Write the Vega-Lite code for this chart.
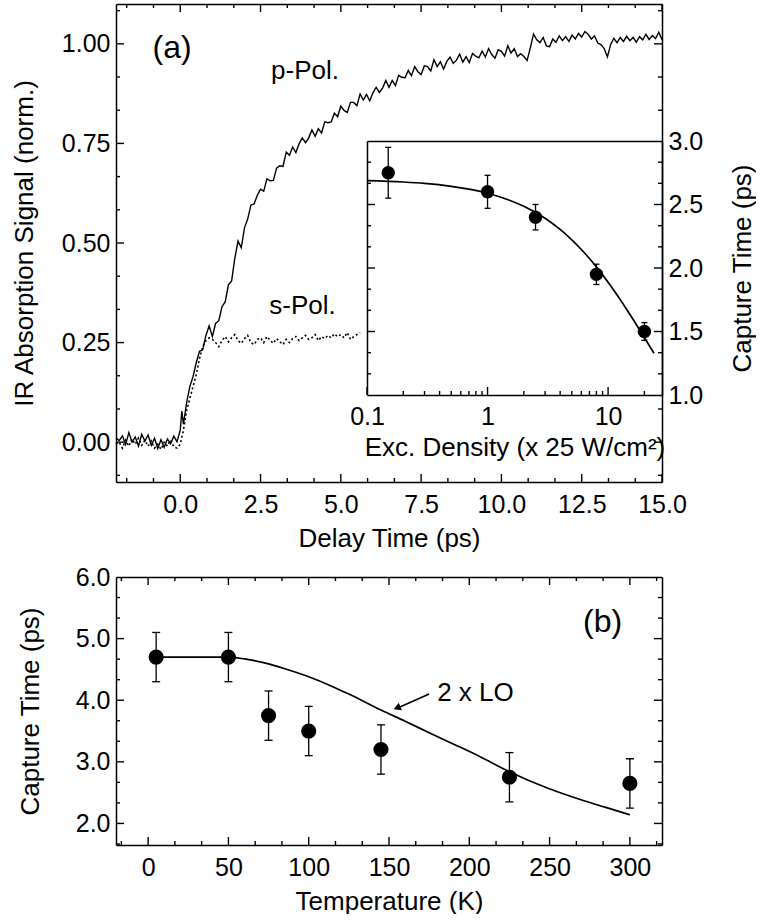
{
 "$schema": "https://vega.github.io/schema/vega-lite/v6.json",
 "padding": {"left": 11, "top": 4, "right": 0, "bottom": 0},
 "background": "white",
 "config": {
  "view": {"stroke": null},
  "font": "Liberation Sans",
  "axis": {"grid": false, "ticks": false, "tickSize": 0, "domain": true, "domainColor": "black", "domainWidth": 1.5, "domainOpacity": 1, "labelColor": "black", "titleColor": "black", "labelFont": "Liberation Sans", "titleFont": "Liberation Sans", "labelFontSize": 25, "titleFontSize": 26, "titleFontWeight": "normal", "labelFlush": false, "labelOverlap": false, "labelBound": false, "zindex": 1},
  "text": {"font": "Liberation Sans", "color": "black"},
  "tick": {"color": "black", "thickness": 1.4, "opacity": 1}
 },
 "datasets": {
  "ppol": [
   {"t":-2.0,"v":0.010},{"t":-1.9,"v":0.004},{"t":-1.8,"v":0.016},{"t":-1.7,"v":-0.006},{"t":-1.6,"v":0.024},{"t":-1.5,"v":0.000},{"t":-1.4,"v":0.013},{"t":-1.3,"v":-0.010},{"t":-1.2,"v":0.020},{"t":-1.1,"v":0.003},
   {"t":-1.0,"v":0.018},{"t":-0.9,"v":-0.008},{"t":-0.8,"v":0.010},{"t":-0.7,"v":-0.016},{"t":-0.6,"v":0.006},{"t":-0.5,"v":-0.013},{"t":-0.4,"v":0.008},{"t":-0.3,"v":-0.004},{"t":-0.2,"v":0.015},{"t":-0.1,"v":0.001},
   {"t":0.0,"v":0.030},{"t":0.05,"v":0.078},{"t":0.1,"v":0.045},{"t":0.2,"v":0.100},{"t":0.3,"v":0.140},{"t":0.4,"v":0.165},{"t":0.5,"v":0.200},{"t":0.6,"v":0.228},{"t":0.7,"v":0.232},{"t":0.8,"v":0.268},{"t":0.9,"v":0.292},
   {"t":1.0,"v":0.265},{"t":1.1,"v":0.298},{"t":1.2,"v":0.305},{"t":1.3,"v":0.340},{"t":1.4,"v":0.352},{"t":1.5,"v":0.395},{"t":1.6,"v":0.405},{"t":1.7,"v":0.462},{"t":1.8,"v":0.505},{"t":1.9,"v":0.488},
   {"t":2.0,"v":0.538},{"t":2.1,"v":0.560},{"t":2.2,"v":0.595},{"t":2.3,"v":0.598},{"t":2.4,"v":0.620},{"t":2.5,"v":0.635},{"t":2.6,"v":0.630},{"t":2.7,"v":0.661},{"t":2.8,"v":0.656},{"t":2.9,"v":0.657},
   {"t":3.0,"v":0.688},{"t":3.1,"v":0.694},{"t":3.2,"v":0.692},{"t":3.3,"v":0.728},{"t":3.4,"v":0.720},{"t":3.5,"v":0.741},{"t":3.6,"v":0.727},{"t":3.7,"v":0.749},{"t":3.8,"v":0.764},{"t":3.9,"v":0.752},
   {"t":4.0,"v":0.764},{"t":4.1,"v":0.784},{"t":4.2,"v":0.768},{"t":4.3,"v":0.787},{"t":4.4,"v":0.776},{"t":4.5,"v":0.804},{"t":4.6,"v":0.802},{"t":4.7,"v":0.804},{"t":4.8,"v":0.826},{"t":4.9,"v":0.817},
   {"t":5.0,"v":0.844},{"t":5.1,"v":0.833},{"t":5.2,"v":0.828},{"t":5.3,"v":0.853},{"t":5.4,"v":0.853},{"t":5.5,"v":0.845},{"t":5.6,"v":0.874},{"t":5.7,"v":0.859},{"t":5.8,"v":0.873},{"t":5.9,"v":0.857},
   {"t":6.0,"v":0.877},{"t":6.1,"v":0.891},{"t":6.2,"v":0.878},{"t":6.3,"v":0.889},{"t":6.4,"v":0.908},{"t":6.5,"v":0.891},{"t":6.6,"v":0.908},{"t":6.7,"v":0.895},{"t":6.8,"v":0.921},{"t":6.9,"v":0.916},
   {"t":7.0,"v":0.915},{"t":7.1,"v":0.933},{"t":7.2,"v":0.920},{"t":7.3,"v":0.943},{"t":7.4,"v":0.930},{"t":7.5,"v":0.923},{"t":7.6,"v":0.945},{"t":7.7,"v":0.943},{"t":7.8,"v":0.932},{"t":7.9,"v":0.960},
   {"t":8.0,"v":0.943},{"t":8.1,"v":0.955},{"t":8.2,"v":0.937},{"t":8.3,"v":0.956},{"t":8.4,"v":0.967},{"t":8.5,"v":0.951},{"t":8.6,"v":0.959},{"t":8.7,"v":0.974},{"t":8.8,"v":0.954},{"t":8.9,"v":0.968},
   {"t":9.0,"v":0.953},{"t":9.1,"v":0.976},{"t":9.2,"v":0.969},{"t":9.3,"v":0.965},{"t":9.4,"v":0.982},{"t":9.5,"v":0.967},{"t":9.6,"v":0.988},{"t":9.7,"v":0.973},{"t":9.8,"v":0.964},{"t":9.9,"v":0.985},
   {"t":10.0,"v":0.981},{"t":10.1,"v":0.969},{"t":10.2,"v":0.995},{"t":10.3,"v":0.977},{"t":10.4,"v":0.988},{"t":10.5,"v":0.968},{"t":10.6,"v":0.975},{"t":10.7,"v":0.968},{"t":10.8,"v":0.958},{"t":10.9,"v":0.990},
   {"t":11.0,"v":1.025},{"t":11.1,"v":1.010},{"t":11.2,"v":1.003},{"t":11.3,"v":1.016},{"t":11.4,"v":0.995},{"t":11.5,"v":0.993},{"t":11.6,"v":1.012},{"t":11.7,"v":1.004},{"t":11.8,"v":1.020},{"t":11.9,"v":1.008},
   {"t":12.0,"v":1.018},{"t":12.1,"v":1.006},{"t":12.2,"v":1.022},{"t":12.3,"v":1.012},{"t":12.4,"v":1.026},{"t":12.5,"v":1.017},{"t":12.6,"v":1.031},{"t":12.7,"v":1.024},{"t":12.8,"v":1.012},{"t":12.9,"v":1.020},
   {"t":13.0,"v":1.002},{"t":13.1,"v":0.998},{"t":13.2,"v":0.988},{"t":13.3,"v":0.967},{"t":13.4,"v":0.998},{"t":13.5,"v":1.014},{"t":13.6,"v":1.003},{"t":13.7,"v":1.016},{"t":13.8,"v":1.006},{"t":13.9,"v":1.019},
   {"t":14.0,"v":1.008},{"t":14.1,"v":1.016},{"t":14.2,"v":1.004},{"t":14.3,"v":1.018},{"t":14.4,"v":1.010},{"t":14.5,"v":1.024},{"t":14.6,"v":1.011},{"t":14.7,"v":1.021},{"t":14.8,"v":1.013},{"t":14.9,"v":1.029},{"t":15.0,"v":1.010}
  ],
  "spol": [
   {"t":-2.0,"v":-0.005},{"t":-1.9,"v":0.000},{"t":-1.8,"v":-0.015},{"t":-1.7,"v":0.005},{"t":-1.6,"v":-0.010},{"t":-1.5,"v":0.008},{"t":-1.4,"v":-0.005},{"t":-1.3,"v":0.010},{"t":-1.2,"v":-0.008},{"t":-1.1,"v":0.005},
   {"t":-1.0,"v":-0.010},{"t":-0.9,"v":0.003},{"t":-0.8,"v":-0.015},{"t":-0.7,"v":-0.005},{"t":-0.6,"v":-0.018},{"t":-0.5,"v":0.000},{"t":-0.4,"v":-0.010},{"t":-0.3,"v":0.005},{"t":-0.2,"v":-0.012},{"t":-0.1,"v":-0.015},
   {"t":0.0,"v":-0.005},{"t":0.1,"v":0.030},{"t":0.2,"v":0.080},{"t":0.3,"v":0.110},{"t":0.4,"v":0.140},{"t":0.5,"v":0.170},{"t":0.6,"v":0.210},{"t":0.7,"v":0.240},{"t":0.8,"v":0.255},{"t":0.9,"v":0.262},
   {"t":1.0,"v":0.258},{"t":1.1,"v":0.250},{"t":1.2,"v":0.240},{"t":1.3,"v":0.255},{"t":1.4,"v":0.265},{"t":1.5,"v":0.252},{"t":1.6,"v":0.262},{"t":1.7,"v":0.270},{"t":1.8,"v":0.255},{"t":1.9,"v":0.248},
   {"t":2.0,"v":0.260},{"t":2.1,"v":0.268},{"t":2.2,"v":0.250},{"t":2.3,"v":0.245},{"t":2.4,"v":0.258},{"t":2.5,"v":0.262},{"t":2.6,"v":0.250},{"t":2.7,"v":0.265},{"t":2.8,"v":0.255},{"t":2.9,"v":0.248},
   {"t":3.0,"v":0.260},{"t":3.1,"v":0.252},{"t":3.2,"v":0.245},{"t":3.3,"v":0.258},{"t":3.4,"v":0.250},{"t":3.5,"v":0.260},{"t":3.6,"v":0.265},{"t":3.7,"v":0.255},{"t":3.8,"v":0.262},{"t":3.9,"v":0.268},
   {"t":4.0,"v":0.258},{"t":4.1,"v":0.262},{"t":4.2,"v":0.270},{"t":4.3,"v":0.255},{"t":4.4,"v":0.265},{"t":4.5,"v":0.260},{"t":4.6,"v":0.268},{"t":4.7,"v":0.262},{"t":4.8,"v":0.272},{"t":4.9,"v":0.265},
   {"t":5.0,"v":0.270},{"t":5.1,"v":0.262},{"t":5.2,"v":0.275},{"t":5.3,"v":0.258},{"t":5.4,"v":0.265},{"t":5.5,"v":0.270},{"t":5.6,"v":0.275}
  ],
  "inset_pts": [
   {"n":0.15,"tau":2.75,"lo":2.55,"hi":2.95},
   {"n":1.0,"tau":2.60,"lo":2.47,"hi":2.73},
   {"n":2.5,"tau":2.40,"lo":2.30,"hi":2.50},
   {"n":8.0,"tau":1.95,"lo":1.87,"hi":2.03},
   {"n":20.0,"tau":1.50,"lo":1.43,"hi":1.57}
  ],
  "inset_fit": [
   {"n":0.1,"tau":2.688},{"n":0.2,"tau":2.677},{"n":0.3,"tau":2.666},{"n":0.5,"tau":2.643},{"n":0.7,"tau":2.621},{"n":1,"tau":2.589},{"n":1.5,"tau":2.536},{"n":2,"tau":2.486},{"n":3,"tau":2.392},{"n":4,"tau":2.304},{"n":5,"tau":2.222},{"n":6,"tau":2.146},{"n":7,"tau":2.075},{"n":8,"tau":2.009},{"n":10,"tau":1.888},{"n":12,"tau":1.781},{"n":14,"tau":1.685},{"n":16,"tau":1.600},{"n":18,"tau":1.522},{"n":20,"tau":1.452},{"n":22,"tau":1.388},{"n":24,"tau":1.329}
  ],
  "b_pts": [
   {"T":5,"tau":4.70,"lo":4.30,"hi":5.10},
   {"T":50,"tau":4.70,"lo":4.30,"hi":5.10},
   {"T":75,"tau":3.75,"lo":3.35,"hi":4.15},
   {"T":100,"tau":3.50,"lo":3.10,"hi":3.90},
   {"T":145,"tau":3.20,"lo":2.80,"hi":3.60},
   {"T":225,"tau":2.75,"lo":2.35,"hi":3.15},
   {"T":300,"tau":2.65,"lo":2.25,"hi":3.05}
  ],
  "b_fit": [
   {"T":5,"tau":4.70},{"T":50,"tau":4.70},{"T":60,"tau":4.67},{"T":75,"tau":4.59},{"T":90,"tau":4.47},{"T":100,"tau":4.38},{"T":115,"tau":4.22},{"T":125,"tau":4.10},{"T":145,"tau":3.84},{"T":160,"tau":3.66},{"T":176,"tau":3.46},{"T":190,"tau":3.29},{"T":207,"tau":3.08},{"T":225,"tau":2.84},{"T":249,"tau":2.57},{"T":270,"tau":2.38},{"T":285,"tau":2.26},{"T":300,"tau":2.14}
  ],
  "mx_maj": [{"p":0},{"p":2.5},{"p":5},{"p":7.5},{"p":10},{"p":12.5},{"p":15}],
  "mx_min": [{"p":-1.6667},{"p":-0.8333},{"p":0.8333},{"p":1.6667},{"p":3.3333},{"p":4.1667},{"p":5.8333},{"p":6.6667},{"p":8.3333},{"p":9.1667},{"p":10.8333},{"p":11.6667},{"p":13.3333},{"p":14.1667}],
  "my_maj": [{"p":0},{"p":0.25},{"p":0.5},{"p":0.75},{"p":1}],
  "my_min": [{"p":-0.0833},{"p":0.0833},{"p":0.1667},{"p":0.3333},{"p":0.4167},{"p":0.5833},{"p":0.6667},{"p":0.8333},{"p":0.9167},{"p":1.0833}],
  "my_rmaj": [{"p":0},{"p":1}],
  "my_rmin": [{"p":-0.0833},{"p":0.0833},{"p":0.8333},{"p":0.9167},{"p":1.0833}],
  "ix_maj": [{"p":0.1},{"p":1},{"p":10}],
  "ix_min": [{"p":0.2},{"p":0.3},{"p":0.4},{"p":0.5},{"p":0.6},{"p":0.7},{"p":0.8},{"p":0.9},{"p":2},{"p":3},{"p":4},{"p":5},{"p":6},{"p":7},{"p":8},{"p":9},{"p":20}],
  "iy_maj": [{"p":1.5},{"p":2},{"p":2.5}],
  "iy_min": [{"p":1.1667},{"p":1.3333},{"p":1.6667},{"p":1.8333},{"p":2.1667},{"p":2.3333},{"p":2.6667},{"p":2.8333}],
  "bx_maj": [{"p":0},{"p":50},{"p":100},{"p":150},{"p":200},{"p":250},{"p":300}],
  "bx_min": [{"p":-16.667},{"p":16.667},{"p":33.333},{"p":66.667},{"p":83.333},{"p":116.667},{"p":133.333},{"p":166.667},{"p":183.333},{"p":216.667},{"p":233.333},{"p":266.667},{"p":283.333},{"p":316.667}],
  "by_maj": [{"p":2},{"p":3},{"p":4},{"p":5}],
  "by_min": [{"p":1.6667},{"p":2.3333},{"p":2.6667},{"p":3.3333},{"p":3.6667},{"p":4.3333},{"p":4.6667},{"p":5.3333},{"p":5.6667}]
 },
 "bounds": "flush",
 "spacing": 95,
 "vconcat": [
  {
   "width": 546,
   "height": 478,
   "resolve": {"scale": {"x": "independent", "y": "independent"}, "axis": {"x": "independent", "y": "independent"}},
   "layer": [
    {
     "data": {"name": "ppol"},
     "mark": {"type": "line", "color": "black", "strokeWidth": 1.4},
     "encoding": {
      "x": {"field": "t", "type": "quantitative", "scale": {"domain": [-2, 15], "nice": false, "zero": false}, "axis": {"orient": "bottom", "values": [0, 2.5, 5, 7.5, 10, 12.5, 15], "format": ".1f", "title": "Delay Time (ps)", "labelPadding": 10, "titlePadding": 8}},
      "y": {"field": "v", "type": "quantitative", "scale": {"domain": [-0.1, 1.1], "nice": false, "zero": false}, "axis": {"orient": "left", "values": [0, 0.25, 0.5, 0.75, 1], "format": ".2f", "title": "IR Absorption Signal (norm.)", "labelPadding": 6, "titlePadding": 24}}
     }
    },
    {
     "data": {"name": "spol"},
     "mark": {"type": "line", "color": "black", "strokeWidth": 1.6, "strokeDash": [2, 2.5]},
     "encoding": {
      "x": {"field": "t", "type": "quantitative", "scale": {"domain": [-2, 15], "nice": false, "zero": false}, "axis": {"orient": "top", "labels": false, "title": null}},
      "y": {"field": "v", "type": "quantitative", "scale": {"domain": [-0.1, 1.1], "nice": false, "zero": false}, "axis": {"orient": "right", "labels": false, "title": null}}
     }
    },
    {
     "data": {"values": [{"x": -0.255, "y": 0.99, "label": "(a)"}]},
     "mark": {"type": "text", "fontSize": 32, "align": "center", "baseline": "middle"},
     "encoding": {
      "x": {"field": "x", "type": "quantitative", "scale": {"domain": [-2, 15], "nice": false, "zero": false}, "axis": null},
      "y": {"field": "y", "type": "quantitative", "scale": {"domain": [-0.1, 1.1], "nice": false, "zero": false}, "axis": null},
      "text": {"field": "label"}
     }
    },
    {
     "data": {"values": [{"x": 3.885, "y": 0.932, "label": "p-Pol."}, {"x": 3.81, "y": 0.342, "label": "s-Pol."}]},
     "mark": {"type": "text", "fontSize": 26, "align": "center", "baseline": "middle"},
     "encoding": {
      "x": {"field": "x", "type": "quantitative", "scale": {"domain": [-2, 15], "nice": false, "zero": false}, "axis": null},
      "y": {"field": "y", "type": "quantitative", "scale": {"domain": [-0.1, 1.1], "nice": false, "zero": false}, "axis": null},
      "text": {"field": "label"}
     }
    },
    {
     "data": {"name": "mx_maj"},
     "mark": {"type": "tick", "orient": "vertical", "size": 8, "yOffset": -4},
     "encoding": {
      "x": {"field": "p", "type": "quantitative", "scale": {"domain": [-2, 15], "nice": false, "zero": false}, "axis": null},
      "y": {"datum": -0.1, "type": "quantitative", "scale": {"domain": [-0.1, 1.1], "nice": false, "zero": false}, "axis": null}
     }
    },
    {
     "data": {"name": "mx_min"},
     "mark": {"type": "tick", "orient": "vertical", "size": 4, "yOffset": -2},
     "encoding": {
      "x": {"field": "p", "type": "quantitative", "scale": {"domain": [-2, 15], "nice": false, "zero": false}, "axis": null},
      "y": {"datum": -0.1, "type": "quantitative", "scale": {"domain": [-0.1, 1.1], "nice": false, "zero": false}, "axis": null}
     }
    },
    {
     "data": {"name": "mx_maj"},
     "mark": {"type": "tick", "orient": "vertical", "size": 8, "yOffset": 4},
     "encoding": {
      "x": {"field": "p", "type": "quantitative", "scale": {"domain": [-2, 15], "nice": false, "zero": false}, "axis": null},
      "y": {"datum": 1.1, "type": "quantitative", "scale": {"domain": [-0.1, 1.1], "nice": false, "zero": false}, "axis": null}
     }
    },
    {
     "data": {"name": "mx_min"},
     "mark": {"type": "tick", "orient": "vertical", "size": 4, "yOffset": 2},
     "encoding": {
      "x": {"field": "p", "type": "quantitative", "scale": {"domain": [-2, 15], "nice": false, "zero": false}, "axis": null},
      "y": {"datum": 1.1, "type": "quantitative", "scale": {"domain": [-0.1, 1.1], "nice": false, "zero": false}, "axis": null}
     }
    },
    {
     "data": {"name": "my_maj"},
     "mark": {"type": "tick", "orient": "horizontal", "size": 8, "xOffset": 4},
     "encoding": {
      "x": {"datum": -2, "type": "quantitative", "scale": {"domain": [-2, 15], "nice": false, "zero": false}, "axis": null},
      "y": {"field": "p", "type": "quantitative", "scale": {"domain": [-0.1, 1.1], "nice": false, "zero": false}, "axis": null}
     }
    },
    {
     "data": {"name": "my_min"},
     "mark": {"type": "tick", "orient": "horizontal", "size": 4, "xOffset": 2},
     "encoding": {
      "x": {"datum": -2, "type": "quantitative", "scale": {"domain": [-2, 15], "nice": false, "zero": false}, "axis": null},
      "y": {"field": "p", "type": "quantitative", "scale": {"domain": [-0.1, 1.1], "nice": false, "zero": false}, "axis": null}
     }
    },
    {
     "data": {"name": "my_rmaj"},
     "mark": {"type": "tick", "orient": "horizontal", "size": 8, "xOffset": -4},
     "encoding": {
      "x": {"datum": 15, "type": "quantitative", "scale": {"domain": [-2, 15], "nice": false, "zero": false}, "axis": null},
      "y": {"field": "p", "type": "quantitative", "scale": {"domain": [-0.1, 1.1], "nice": false, "zero": false}, "axis": null}
     }
    },
    {
     "data": {"name": "my_rmin"},
     "mark": {"type": "tick", "orient": "horizontal", "size": 4, "xOffset": -2},
     "encoding": {
      "x": {"datum": 15, "type": "quantitative", "scale": {"domain": [-2, 15], "nice": false, "zero": false}, "axis": null},
      "y": {"field": "p", "type": "quantitative", "scale": {"domain": [-0.1, 1.1], "nice": false, "zero": false}, "axis": null}
     }
    },
    {
     "data": {"name": "inset_fit"},
     "mark": {"type": "line", "color": "black", "strokeWidth": 1.7, "interpolate": "monotone"},
     "encoding": {
      "x": {"field": "n", "type": "quantitative", "scale": {"type": "log", "domain": [0.1, 28], "range": [251, 546], "nice": false}, "axis": {"orient": "bottom", "offset": -87, "values": [0.1, 1, 10], "format": "~g", "title": "Exc. Density (x 25 W/cm²)", "labelPadding": 9, "titlePadding": 5}},
      "y": {"field": "tau", "type": "quantitative", "scale": {"domain": [1, 3], "range": [391, 137], "nice": false, "zero": false}, "axis": {"orient": "right", "values": [1, 1.5, 2, 2.5, 3], "format": ".1f", "title": "Capture Time (ps)", "labelPadding": 6, "titlePadding": 27, "titleAngle": 270, "titleBaseline": "top"}}
     }
    },
    {
     "data": {"name": "inset_pts"},
     "mark": {"type": "rule", "color": "black", "strokeWidth": 1.3},
     "encoding": {
      "x": {"field": "n", "type": "quantitative", "scale": {"type": "log", "domain": [0.1, 28], "range": [251, 546], "nice": false}, "axis": {"orient": "top", "offset": -137, "labels": false, "title": null}},
      "y": {"field": "lo", "type": "quantitative", "scale": {"domain": [1, 3], "range": [391, 137], "nice": false, "zero": false}, "axis": {"orient": "left", "offset": -251, "labels": false, "title": null}},
      "y2": {"field": "hi"}
     }
    },
    {
     "data": {"name": "inset_pts"},
     "mark": {"type": "tick", "orient": "horizontal", "size": 6, "thickness": 1.3},
     "encoding": {
      "x": {"field": "n", "type": "quantitative", "scale": {"type": "log", "domain": [0.1, 28], "range": [251, 546], "nice": false}, "axis": null},
      "y": {"field": "lo", "type": "quantitative", "scale": {"domain": [1, 3], "range": [391, 137], "nice": false, "zero": false}, "axis": null}
     }
    },
    {
     "data": {"name": "inset_pts"},
     "mark": {"type": "tick", "orient": "horizontal", "size": 6, "thickness": 1.3},
     "encoding": {
      "x": {"field": "n", "type": "quantitative", "scale": {"type": "log", "domain": [0.1, 28], "range": [251, 546], "nice": false}, "axis": null},
      "y": {"field": "hi", "type": "quantitative", "scale": {"domain": [1, 3], "range": [391, 137], "nice": false, "zero": false}, "axis": null}
     }
    },
    {
     "data": {"name": "inset_pts"},
     "mark": {"type": "circle", "size": 180, "color": "black", "opacity": 1},
     "encoding": {
      "x": {"field": "n", "type": "quantitative", "scale": {"type": "log", "domain": [0.1, 28], "range": [251, 546], "nice": false}, "axis": null},
      "y": {"field": "tau", "type": "quantitative", "scale": {"domain": [1, 3], "range": [391, 137], "nice": false, "zero": false}, "axis": null}
     }
    },
    {
     "data": {"name": "ix_maj"},
     "mark": {"type": "tick", "orient": "vertical", "size": 8, "yOffset": -4},
     "encoding": {
      "x": {"field": "p", "type": "quantitative", "scale": {"type": "log", "domain": [0.1, 28], "range": [251, 546], "nice": false}, "axis": null},
      "y": {"datum": 1, "type": "quantitative", "scale": {"domain": [1, 3], "range": [391, 137], "nice": false, "zero": false}, "axis": null}
     }
    },
    {
     "data": {"name": "ix_min"},
     "mark": {"type": "tick", "orient": "vertical", "size": 4, "yOffset": -2},
     "encoding": {
      "x": {"field": "p", "type": "quantitative", "scale": {"type": "log", "domain": [0.1, 28], "range": [251, 546], "nice": false}, "axis": null},
      "y": {"datum": 1, "type": "quantitative", "scale": {"domain": [1, 3], "range": [391, 137], "nice": false, "zero": false}, "axis": null}
     }
    },
    {
     "data": {"name": "iy_maj"},
     "mark": {"type": "tick", "orient": "horizontal", "size": 8, "xOffset": 4},
     "encoding": {
      "x": {"datum": 0.1, "type": "quantitative", "scale": {"type": "log", "domain": [0.1, 28], "range": [251, 546], "nice": false}, "axis": null},
      "y": {"field": "p", "type": "quantitative", "scale": {"domain": [1, 3], "range": [391, 137], "nice": false, "zero": false}, "axis": null}
     }
    },
    {
     "data": {"name": "iy_min"},
     "mark": {"type": "tick", "orient": "horizontal", "size": 4, "xOffset": 2},
     "encoding": {
      "x": {"datum": 0.1, "type": "quantitative", "scale": {"type": "log", "domain": [0.1, 28], "range": [251, 546], "nice": false}, "axis": null},
      "y": {"field": "p", "type": "quantitative", "scale": {"domain": [1, 3], "range": [391, 137], "nice": false, "zero": false}, "axis": null}
     }
    },
    {
     "data": {"name": "iy_maj"},
     "mark": {"type": "tick", "orient": "horizontal", "size": 8, "xOffset": -4},
     "encoding": {
      "x": {"datum": 28, "type": "quantitative", "scale": {"type": "log", "domain": [0.1, 28], "range": [251, 546], "nice": false}, "axis": null},
      "y": {"field": "p", "type": "quantitative", "scale": {"domain": [1, 3], "range": [391, 137], "nice": false, "zero": false}, "axis": null}
     }
    },
    {
     "data": {"name": "iy_min"},
     "mark": {"type": "tick", "orient": "horizontal", "size": 4, "xOffset": -2},
     "encoding": {
      "x": {"datum": 28, "type": "quantitative", "scale": {"type": "log", "domain": [0.1, 28], "range": [251, 546], "nice": false}, "axis": null},
      "y": {"field": "p", "type": "quantitative", "scale": {"domain": [1, 3], "range": [391, 137], "nice": false, "zero": false}, "axis": null}
     }
    }
   ]
  },
  {
   "width": 546,
   "height": 268,
   "resolve": {"scale": {"x": "independent", "y": "independent"}, "axis": {"x": "independent", "y": "independent"}},
   "layer": [
    {
     "data": {"name": "b_fit"},
     "mark": {"type": "line", "color": "black", "strokeWidth": 1.7, "interpolate": "monotone"},
     "encoding": {
      "x": {"field": "T", "type": "quantitative", "scale": {"domain": [-20, 320], "nice": false, "zero": false}, "axis": {"orient": "bottom", "values": [0, 50, 100, 150, 200, 250, 300], "format": "d", "title": "Temperature (K)", "labelPadding": 10, "titlePadding": 8}},
      "y": {"field": "tau", "type": "quantitative", "scale": {"domain": [1.65, 6.0], "nice": false, "zero": false}, "axis": {"orient": "left", "values": [2, 3, 4, 5, 6], "format": ".1f", "title": "Capture Time (ps)", "labelPadding": 6, "titlePadding": 32}}
     }
    },
    {
     "data": {"name": "b_pts"},
     "mark": {"type": "rule", "color": "black", "strokeWidth": 1.3},
     "encoding": {
      "x": {"field": "T", "type": "quantitative", "scale": {"domain": [-20, 320], "nice": false, "zero": false}, "axis": {"orient": "top", "labels": false, "title": null}},
      "y": {"field": "lo", "type": "quantitative", "scale": {"domain": [1.65, 6.0], "nice": false, "zero": false}, "axis": {"orient": "right", "labels": false, "title": null}},
      "y2": {"field": "hi"}
     }
    },
    {
     "data": {"name": "b_pts"},
     "mark": {"type": "tick", "orient": "horizontal", "size": 8, "thickness": 1.3},
     "encoding": {
      "x": {"field": "T", "type": "quantitative", "scale": {"domain": [-20, 320], "nice": false, "zero": false}, "axis": null},
      "y": {"field": "lo", "type": "quantitative", "scale": {"domain": [1.65, 6.0], "nice": false, "zero": false}, "axis": null}
     }
    },
    {
     "data": {"name": "b_pts"},
     "mark": {"type": "tick", "orient": "horizontal", "size": 8, "thickness": 1.3},
     "encoding": {
      "x": {"field": "T", "type": "quantitative", "scale": {"domain": [-20, 320], "nice": false, "zero": false}, "axis": null},
      "y": {"field": "hi", "type": "quantitative", "scale": {"domain": [1.65, 6.0], "nice": false, "zero": false}, "axis": null}
     }
    },
    {
     "data": {"name": "b_pts"},
     "mark": {"type": "circle", "size": 230, "color": "black", "opacity": 1},
     "encoding": {
      "x": {"field": "T", "type": "quantitative", "scale": {"domain": [-20, 320], "nice": false, "zero": false}, "axis": null},
      "y": {"field": "tau", "type": "quantitative", "scale": {"domain": [1.65, 6.0], "nice": false, "zero": false}, "axis": null}
     }
    },
    {
     "data": {"values": [{"x": 283, "y": 5.27, "label": "(b)"}]},
     "mark": {"type": "text", "fontSize": 32, "align": "center", "baseline": "middle"},
     "encoding": {
      "x": {"field": "x", "type": "quantitative", "scale": {"domain": [-20, 320], "nice": false, "zero": false}, "axis": null},
      "y": {"field": "y", "type": "quantitative", "scale": {"domain": [1.65, 6.0], "nice": false, "zero": false}, "axis": null},
      "text": {"field": "label"}
     }
    },
    {
     "data": {"values": [{"x": 180, "y": 4.12, "label": "2 x LO"}]},
     "mark": {"type": "text", "fontSize": 26, "align": "left", "baseline": "middle"},
     "encoding": {
      "x": {"field": "x", "type": "quantitative", "scale": {"domain": [-20, 320], "nice": false, "zero": false}, "axis": null},
      "y": {"field": "y", "type": "quantitative", "scale": {"domain": [1.65, 6.0], "nice": false, "zero": false}, "axis": null},
      "text": {"field": "label"}
     }
    },
    {
     "data": {"values": [{"x1": 175, "y1": 4.10, "x2": 155, "y2": 3.87}]},
     "mark": {"type": "rule", "color": "black", "strokeWidth": 1.5},
     "encoding": {
      "x": {"field": "x1", "type": "quantitative", "scale": {"domain": [-20, 320], "nice": false, "zero": false}, "axis": null},
      "y": {"field": "y1", "type": "quantitative", "scale": {"domain": [1.65, 6.0], "nice": false, "zero": false}, "axis": null},
      "x2": {"field": "x2"},
      "y2": {"field": "y2"}
     }
    },
    {
     "data": {"values": [{"x": 155, "y": 3.875}]},
     "mark": {"type": "point", "shape": "triangle-left", "angle": 337, "size": 70, "filled": true, "color": "black", "opacity": 1},
     "encoding": {
      "x": {"field": "x", "type": "quantitative", "scale": {"domain": [-20, 320], "nice": false, "zero": false}, "axis": null},
      "y": {"field": "y", "type": "quantitative", "scale": {"domain": [1.65, 6.0], "nice": false, "zero": false}, "axis": null}
     }
    },
    {
     "data": {"name": "bx_maj"},
     "mark": {"type": "tick", "orient": "vertical", "size": 8, "yOffset": -4},
     "encoding": {
      "x": {"field": "p", "type": "quantitative", "scale": {"domain": [-20, 320], "nice": false, "zero": false}, "axis": null},
      "y": {"datum": 1.65, "type": "quantitative", "scale": {"domain": [1.65, 6.0], "nice": false, "zero": false}, "axis": null}
     }
    },
    {
     "data": {"name": "bx_min"},
     "mark": {"type": "tick", "orient": "vertical", "size": 4, "yOffset": -2},
     "encoding": {
      "x": {"field": "p", "type": "quantitative", "scale": {"domain": [-20, 320], "nice": false, "zero": false}, "axis": null},
      "y": {"datum": 1.65, "type": "quantitative", "scale": {"domain": [1.65, 6.0], "nice": false, "zero": false}, "axis": null}
     }
    },
    {
     "data": {"name": "bx_maj"},
     "mark": {"type": "tick", "orient": "vertical", "size": 8, "yOffset": 4},
     "encoding": {
      "x": {"field": "p", "type": "quantitative", "scale": {"domain": [-20, 320], "nice": false, "zero": false}, "axis": null},
      "y": {"datum": 6.0, "type": "quantitative", "scale": {"domain": [1.65, 6.0], "nice": false, "zero": false}, "axis": null}
     }
    },
    {
     "data": {"name": "bx_min"},
     "mark": {"type": "tick", "orient": "vertical", "size": 4, "yOffset": 2},
     "encoding": {
      "x": {"field": "p", "type": "quantitative", "scale": {"domain": [-20, 320], "nice": false, "zero": false}, "axis": null},
      "y": {"datum": 6.0, "type": "quantitative", "scale": {"domain": [1.65, 6.0], "nice": false, "zero": false}, "axis": null}
     }
    },
    {
     "data": {"name": "by_maj"},
     "mark": {"type": "tick", "orient": "horizontal", "size": 8, "xOffset": 4},
     "encoding": {
      "x": {"datum": -20, "type": "quantitative", "scale": {"domain": [-20, 320], "nice": false, "zero": false}, "axis": null},
      "y": {"field": "p", "type": "quantitative", "scale": {"domain": [1.65, 6.0], "nice": false, "zero": false}, "axis": null}
     }
    },
    {
     "data": {"name": "by_min"},
     "mark": {"type": "tick", "orient": "horizontal", "size": 4, "xOffset": 2},
     "encoding": {
      "x": {"datum": -20, "type": "quantitative", "scale": {"domain": [-20, 320], "nice": false, "zero": false}, "axis": null},
      "y": {"field": "p", "type": "quantitative", "scale": {"domain": [1.65, 6.0], "nice": false, "zero": false}, "axis": null}
     }
    },
    {
     "data": {"name": "by_maj"},
     "mark": {"type": "tick", "orient": "horizontal", "size": 8, "xOffset": -4},
     "encoding": {
      "x": {"datum": 320, "type": "quantitative", "scale": {"domain": [-20, 320], "nice": false, "zero": false}, "axis": null},
      "y": {"field": "p", "type": "quantitative", "scale": {"domain": [1.65, 6.0], "nice": false, "zero": false}, "axis": null}
     }
    },
    {
     "data": {"name": "by_min"},
     "mark": {"type": "tick", "orient": "horizontal", "size": 4, "xOffset": -2},
     "encoding": {
      "x": {"datum": 320, "type": "quantitative", "scale": {"domain": [-20, 320], "nice": false, "zero": false}, "axis": null},
      "y": {"field": "p", "type": "quantitative", "scale": {"domain": [1.65, 6.0], "nice": false, "zero": false}, "axis": null}
     }
    }
   ]
  }
 ]
}
